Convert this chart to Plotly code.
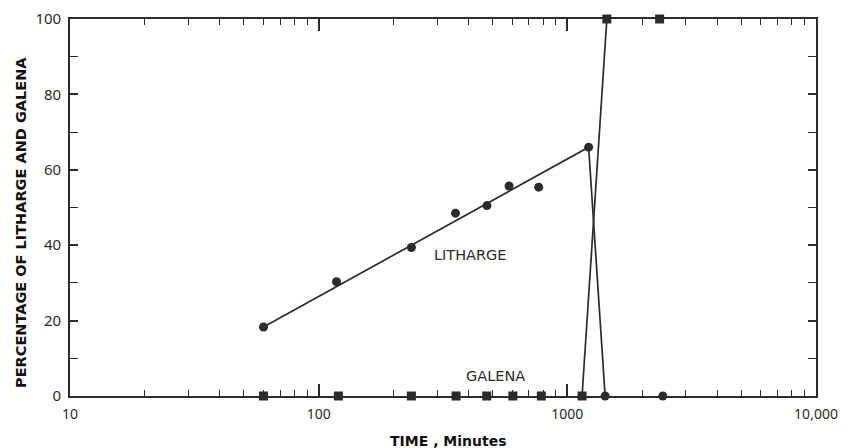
import plotly.graph_objects as go

# Data
litharge_time = [60, 118, 236, 355, 475, 583, 767, 1218, 1419, 2420]
litharge_pct = [18.3, 30.3, 39.4, 48.5, 50.5, 55.7, 55.4, 66.0, 0.0, 0.0]
litharge_line_idx = [0, 7, 8]   # trend line drawn through these points

galena_time = [60, 120, 236, 357, 474, 604, 786, 1146, 1442, 2350]
galena_pct = [0, 0, 0, 0, 0, 0, 0, 0, 100, 100]
galena_line_idx = [7, 8]

x_tick_vals = [10, 100, 1000, 10000]
x_tick_text = ["10", "100", "1000", "10,000"]
y_tick_vals = [0, 20, 40, 60, 80, 100]

INK = "#2b2b2b"

fig = go.Figure()

fig.add_trace(go.Scatter(
    x=[litharge_time[i] for i in litharge_line_idx],
    y=[litharge_pct[i] for i in litharge_line_idx],
    mode="lines", line=dict(color=INK, width=1.7), showlegend=False, hoverinfo="skip"))
fig.add_trace(go.Scatter(
    x=[galena_time[i] for i in galena_line_idx],
    y=[galena_pct[i] for i in galena_line_idx],
    mode="lines", line=dict(color=INK, width=1.7), showlegend=False, hoverinfo="skip"))

fig.add_trace(go.Scatter(
    x=galena_time, y=galena_pct, mode="markers", name="Galena",
    marker=dict(symbol="square", size=9, color=INK), showlegend=False, cliponaxis=False))
fig.add_trace(go.Scatter(
    x=litharge_time, y=litharge_pct, mode="markers", name="Litharge",
    marker=dict(symbol="circle", size=9, color=INK), showlegend=False, cliponaxis=False))

fig.add_annotation(x=2.61, y=37.5, xref="x", yref="y", text="LITHARGE", showarrow=False,
                   font=dict(family="DejaVu Sans", size=14.5, color=INK))
fig.add_annotation(x=2.71, y=5.4, xref="x", yref="y", text="GALENA", showarrow=False,
                   font=dict(family="DejaVu Sans", size=14.5, color=INK))

# Axis titles
fig.add_annotation(x=0.508, y=0, xref="paper", yref="paper", yshift=-45,
                   xanchor="center", yanchor="middle",
                   text="<b>TIME , Minutes</b>", showarrow=False,
                   font=dict(family="DejaVu Sans", size=14, color="#111"))
fig.add_annotation(x=0, y=0.459, xref="paper", yref="paper", xshift=-49, textangle=-90,
                   xanchor="center", yanchor="middle",
                   text="<b>PERCENTAGE OF LITHARGE AND GALENA</b>", showarrow=False,
                   font=dict(family="DejaVu Sans", size=14.5, color="#111"))

minor_x = [m * 10 ** d for d in range(1, 4) for m in range(2, 10)]

fig.update_xaxes(
    type="log", range=[1, 4], automargin=False,
    tickmode="array", tickvals=x_tick_vals, ticktext=x_tick_text,
    ticks="inside", ticklen=12, tickwidth=1.5, tickcolor=INK,
    minor=dict(tickmode="array", tickvals=minor_x, ticks="inside", ticklen=6,
               tickwidth=1.3, tickcolor=INK, showgrid=False),
    showline=True, linecolor=INK, linewidth=1.6, mirror="ticks",
    showgrid=False, zeroline=False,
    ticklabelstandoff=4,
    tickfont=dict(family="Noto Sans", size=14, color=INK),
)
fig.update_yaxes(
    range=[0, 100], automargin=False, tickmode="array", tickvals=y_tick_vals,
    ticks="inside", ticklen=8, tickwidth=1.5, tickcolor=INK,
    minor=dict(dtick=10, ticks="inside", ticklen=8, tickwidth=1.3, tickcolor=INK, showgrid=False),
    showline=True, linecolor=INK, linewidth=1.6, mirror="ticks",
    showgrid=False, zeroline=False,
    ticklabelstandoff=4,
    tickfont=dict(family="Noto Sans", size=15, color=INK),
)

fig.update_layout(
    width=852, height=448,
    margin=dict(l=70, r=36, t=19, b=52),
    plot_bgcolor="white", paper_bgcolor="white",
    showlegend=False,
)

fig.write_html("out.html")
